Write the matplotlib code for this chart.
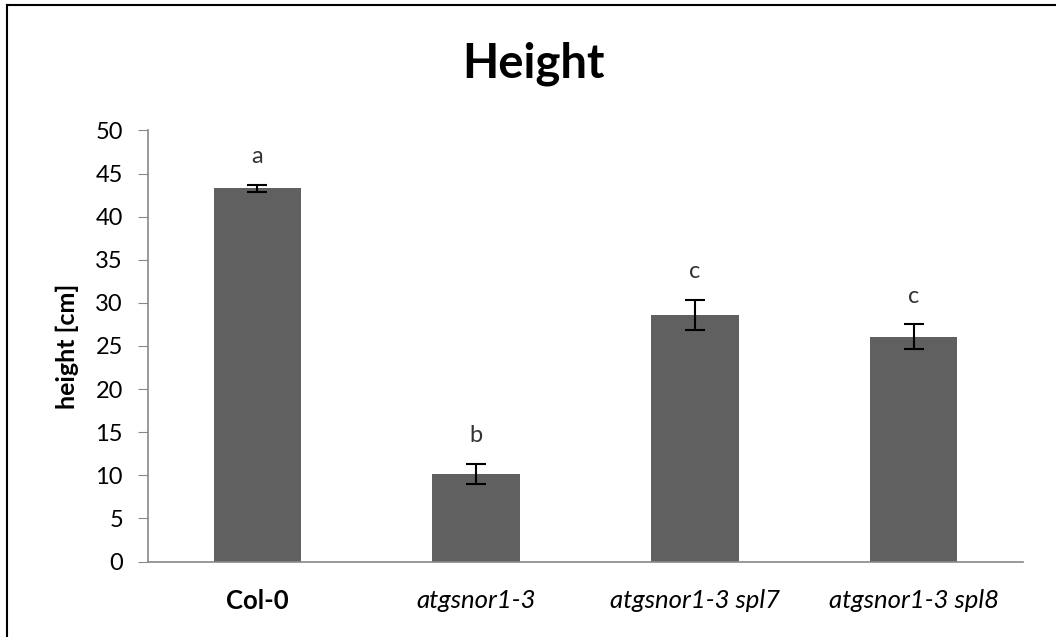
import matplotlib.pyplot as plt
from matplotlib.lines import Line2D

categories = ['Col-0', 'atgsnor1-3', 'atgsnor1-3 spl7', 'atgsnor1-3 spl8']
heights = [43.3, 10.15, 28.6, 26.1]
errors = [0.4, 1.2, 1.7, 1.4]
letters = ['a', 'b', 'c', 'c']
italic = [False, True, True, True]

plt.rcParams['font.family'] = ['Lato', 'DejaVu Sans']

fig = plt.figure(figsize=(10.56, 6.37), dpi=100)
ax = fig.add_axes([148 / 1056, 1 - 561.5 / 637, (1023 - 148) / 1056, (561.5 - 130.5) / 637])

x = range(len(categories))
ax.bar(x, heights, width=0.4, color='#606060', zorder=2)
ax.errorbar(x, heights, yerr=errors, fmt='none', ecolor='black', elinewidth=1.5,
            capsize=7, capthick=1.5, zorder=3)
for i, (h, e, l) in enumerate(zip(heights, errors, letters)):
    ax.text(i, h + e + 3.3, l, ha='center', va='center', fontsize=17, color='#333333')

ax.set_xlim(-0.5, len(categories) - 0.5)
ax.set_ylim(0, 50)
ax.set_yticks(range(0, 51, 5))
ax.set_xticks(list(x))
ax.set_xticklabels(categories, fontsize=18.5)
for lab, it in zip(ax.get_xticklabels(), italic):
    if it:
        lab.set_fontstyle('italic')
    else:
        lab.set_fontweight('bold')
ax.tick_params(axis='x', length=0, pad=20)
ax.tick_params(axis='y', labelsize=17, direction='out', length=7, color='#888888', pad=11)
for s in ['top', 'right']:
    ax.spines[s].set_visible(False)
ax.spines['left'].set_color('#888888')
ax.spines['bottom'].set_color('#888888')
ax.spines['left'].set_linewidth(1.2)
ax.spines['bottom'].set_linewidth(1.2)

ax.set_ylabel('height [cm]', fontsize=18, fontweight='bold', labelpad=12)
fig.text(534 / 1056, 1 - 64 / 637, 'Height', ha='center', va='center', fontsize=34, fontweight='bold')

# outer frame (left and top edges visible)
fig.add_artist(Line2D([7 / 1056, 7 / 1056], [0, 1 - 5 / 637], color='black', lw=1.5, transform=fig.transFigure))
fig.add_artist(Line2D([7 / 1056, 1], [1 - 5 / 637, 1 - 5 / 637], color='black', lw=1.5, transform=fig.transFigure))

fig.savefig('out.png', dpi=100)
